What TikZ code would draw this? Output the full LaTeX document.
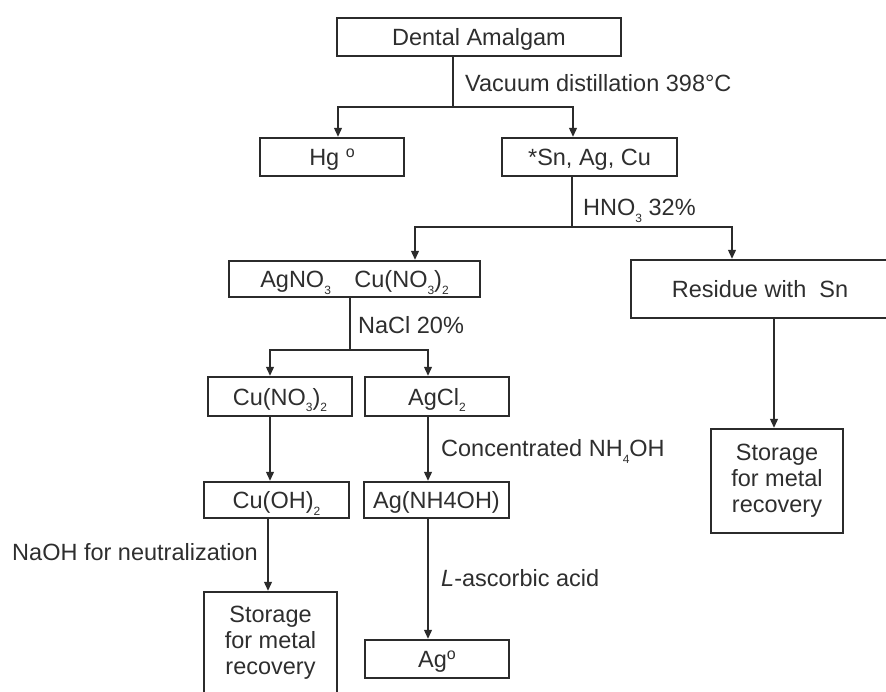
\documentclass[tikz,border=0pt]{standalone}
\usepackage{fontspec}
\setmainfont{Liberation Sans}
\usepackage{graphicx}
\usetikzlibrary{arrows.meta}
\definecolor{ln}{HTML}{2B2B2B}
\definecolor{txt}{HTML}{2E2E2E}
\newcommand{\chs}[1]{\raisebox{-0.28em}{\fontsize{12}{12}\selectfont #1}}
\newcommand{\chsup}[1]{\raisebox{0.36em}{\fontsize{16}{16}\selectfont #1}}
\begin{document}
\begin{tikzpicture}[x=1pt,y=-1pt,
  every node/.style={font={\fontsize{23.5}{26}\selectfont},text=txt},
  box/.style={draw=ln, line width=2.1pt, inner sep=0pt, text height=21pt, text depth=4pt, align=center},
  sbox/.style={draw=ln, line width=2.1pt, inner sep=0pt, align=center},
  lbl/.style={inner sep=0pt, text height=21pt, text depth=4pt},
  con/.style={draw=ln, line width=2.1pt},
  arr/.style={con, -{Triangle[length=9pt,width=7.5pt]}}]
\useasboundingbox (0,0) rectangle (886,691);
\clip (0,0) rectangle (886,691);

% boxes
\node[box,minimum width=284pt,minimum height=38pt] (dental) at (479,37) {Dental Amalgam};
\node[box,minimum width=144pt,minimum height=38pt] (hg) at (332,157) {Hg \chsup{o}};
\node[box,minimum width=175pt,minimum height=38pt] (sn) at (589.5,157) {*Sn, Ag, Cu};
\node[box,minimum width=251pt,minimum height=36pt] (agno) at (354.5,279) {AgNO\chs{3}\quad Cu(NO\chs{3})\chs{2}};
\node[box,minimum width=258pt,minimum height=58pt] (res) at (760,289) {Residue with\ \ Sn};
\node[box,minimum width=144pt,minimum height=39pt] (cuno) at (280,396.5) {Cu(NO\chs{3})\chs{2}};
\node[box,minimum width=144pt,minimum height=39pt] (agcl) at (437,396.5) {AgCl\chs{2}};
\node[box,minimum width=145pt,minimum height=36pt] (cuoh) at (276.5,500) {Cu(OH)\chs{2}};
\node[box,minimum width=145pt,minimum height=36pt] (agnh) at (436.5,500) {Ag(NH4OH)};
\node[sbox,minimum width=133pt,minimum height=102pt] (storl) at (270.5,643) {Storage\\for metal\\recovery};
\node[box,minimum width=144pt,minimum height=38pt] (ago) at (437,659) {Ag\chsup{o}};
\node[sbox,minimum width=132pt,minimum height=104pt] (storr) at (777,481) {Storage\\for metal\\recovery};

% junction coordinates
\coordinate (j1) at (453,107);
\coordinate (a1) at (338,107);
\coordinate (b1) at (573,107);
\coordinate (j2) at (572,227);
\coordinate (a2) at (415,227);
\coordinate (b2) at (732,227);
\coordinate (j3) at (350,350);
\coordinate (a3) at (270,350);
\coordinate (b3) at (428,350);
\coordinate (c1) at (268,0);
\coordinate (c2) at (774,0);

% connectors
\draw[con] (dental.south -| j1) -- (j1);
\draw[arr] (j1) -- (a1) -- (a1 |- hg.north);
\draw[arr] (j1) -- (b1) -- (b1 |- sn.north);

\draw[con] (sn.south -| j2) -- (j2);
\draw[arr] (j2) -- (a2) -- (a2 |- agno.north);
\draw[arr] (j2) -- (b2) -- (b2 |- res.north);

\draw[con] (agno.south -| j3) -- (j3);
\draw[arr] (j3) -- (a3) -- (a3 |- cuno.north);
\draw[arr] (j3) -- (b3) -- (b3 |- agcl.north);

\draw[arr] (a3 |- cuno.south) -- (a3 |- cuoh.north);
\draw[arr] (b3 |- agcl.south) -- (b3 |- agnh.north);
\draw[arr] (c1 |- cuoh.south) -- (c1 |- storl.north);
\draw[arr] (b3 |- agnh.south) -- (b3 |- ago.north);
\draw[arr] (c2 |- res.south) -- (c2 |- storr.north);

% labels
\node[lbl,anchor=west] (l1) at (465,83) {Vacuum distillation 398°C};
\node[lbl,anchor=west] (l2) at (583,207) {HNO\chs{3} 32\%};
\node[lbl,anchor=west] (l3) at (358,325) {NaCl 20\%};
\node[lbl,anchor=west] (l4) at (441,448) {Concentrated NH\chs{4}OH};
\node[lbl,anchor=east] (l5) at (258,552) {NaOH for neutralization};
\node[lbl,anchor=west] (l6) at (441,578) {\textit{L}-ascorbic acid};
\end{tikzpicture}
\end{document}
